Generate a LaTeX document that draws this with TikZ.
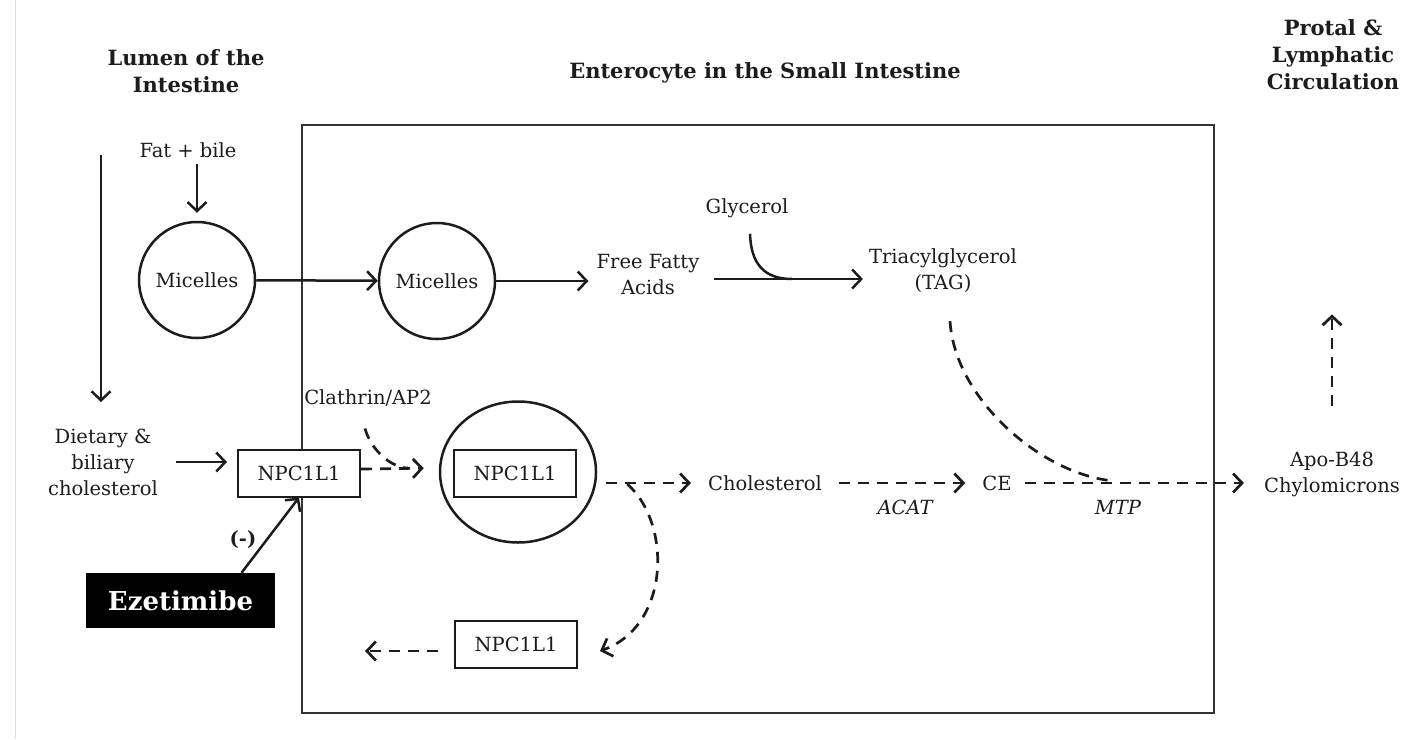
\documentclass[tikz,border=0pt]{standalone}
\usepackage{fontspec}
\setmainfont{DejaVu Serif}
\usetikzlibrary{arrows.meta,shapes.geometric}
\definecolor{ink}{HTML}{1C1C1C}
\begin{document}
\begin{tikzpicture}[x=1pt,y=-1pt,
  every node/.style={text=ink, inner sep=0pt},
  txt/.style={font=\fontsize{19.5}{26}\selectfont, align=center},
  itx/.style={font=\fontsize{19.5}{26}\selectfont\itshape},
  head/.style={font=\fontsize{21}{27}\selectfont\bfseries, align=center},
  cell/.style={circle, draw=ink, line width=2.5pt, minimum size=116pt, font=\fontsize{19.5}{26}\selectfont},
  pbox/.style={rectangle, draw=ink, fill=white, line width=2pt, minimum width=122pt, minimum height=47pt, font=\fontsize{19.5}{26}\selectfont},
  arr/.style={-{Straight Barb[length=9pt,width=19pt]}, line width=2.5pt, draw=ink},
  darr/.style={arr, line width=2.7pt, dash pattern=on 11pt off 8pt},
  dline/.style={draw=ink, line width=2.7pt, dash pattern=on 11pt off 8pt},
]
\useasboundingbox (0,0) rectangle (1423,739);
\draw[gray!25, line width=1pt] (15,0) -- (15,739);

% headings
\node[head] (lumen) at (186,71) {Lumen of the\\Intestine};
\node[head] (entero) at (765,73) {Enterocyte in the Small Intestine};
\node[head] (portal) at (1333,55) {Protal \&\\Lymphatic\\Circulation};

% enterocyte box
\node[draw=ink!90, line width=2.5pt, minimum width=912pt, minimum height=588pt] (entbox) at (758,419) {};

% top row
\node[txt] (fat) at (188,150) {Fat + bile};
\node[cell] (mic1) at (197,280) {Micelles};
\node[cell] (mic2) at (437,281) {Micelles};
\node[txt] (ffa) at (648,275) {Free Fatty\\Acids};
\node[txt] (gly) at (747,208) {Glycerol};
\node[txt] (tag) at (943,271) {Triacylglycerol\\(TAG)};

% middle row
\node[txt] (diet) at (103,462) {Dietary \&\\biliary\\cholesterol};
\node[pbox] (npc1) at (299,473) {NPC1L1};
\node[txt] (clath) at (368,398) {Clathrin/AP2};
\node[ellipse, draw=ink, line width=2.5pt, minimum width=156pt, minimum height=141pt] (ves) at (518,472) {};
\node[pbox] (npc2) at (515,473) {NPC1L1};
\node[txt] (chol) at (765,483) {Cholesterol};
\node[txt] (ce) at (997,483) {CE};
\node[txt] (apo) at (1332,474) {Apo-B48\\Chylomicrons};
\node[itx] (acat) at (905,507) {ACAT};
\node[itx] (mtp) at (1118,507) {MTP};

% bottom
\node[pbox] (npc3) at (516,644) {NPC1L1};
\node[fill=black, minimum width=189pt, minimum height=55pt, text=white, font=\fontsize{26}{30}\selectfont\bfseries] (ezet) at (180.5,600.5) {Ezetimibe};
\node[txt, font=\fontsize{19.5}{26}\selectfont\bfseries] (minus) at (243,540) {(-)};

\coordinate (l1) at (101,155);
\coordinate (l2) at (101,402);
\coordinate (merge) at (792,279);
\coordinate (mtpjoin) at (1115,481);
\coordinate (exit) at (365,651);
\coordinate (clathjoin) at (408,468);

% solid arrows
\draw[arr] (l1) -- (l2);
\draw[arr, shorten <=6pt, shorten >=8pt] (fat.south -| mic1.north) -- (mic1.north);
\draw[arr] (mic1) -- (mic2);
\draw[arr, shorten >=8pt] (mic2.east) -- (mic2.east -| ffa.west);
\draw[arr, shorten <=14pt, shorten >=6pt] (ffa.east |- merge) -- (tag.west |- merge);
\draw[draw=ink, line width=2.5pt] ([shift={(3,16)}]gly.south) .. controls +(1,30) and +(-28,0) .. (merge);
\draw[arr, shorten <=18pt, shorten >=10pt] (diet.east) -- (diet.east -| npc1.west);
\draw[arr] ([xshift=61pt]ezet.north) -- (npc1.south);

% dashed arrows
\draw[darr, shorten >=15pt] ([yshift=4pt]npc1.east) -- ([yshift=4pt]ves.west);
\draw[dline] ([shift={(-3,22)}]clath.south) .. controls +(6,22) and +(-16,0) .. (clathjoin);
\draw[darr, shorten <=9pt, shorten >=17pt] (ves.east |- chol) -- (chol.west);
\draw[darr, shorten <=17pt, shorten >=17pt] (chol.east) -- (ce.west);
\draw[darr, shorten <=13pt, shorten >=20pt] (ce.east) -- (ce.east -| apo.west);
\draw[dline] ([shift={(7,28)}]tag.south) .. controls +(5,80) and +(-70,-5) .. (mtpjoin);
\draw[darr] ([yshift=45pt]apo.north) -- ([yshift=137pt]apo.north);
\draw[darr] ([shift={(30,12)}]ves.east) .. controls +(45,40) and +(70,-25) .. ([shift={(22,7)}]npc3.east);
\draw[darr, shorten <=16pt] ([yshift=-7pt]npc3.west) -- (exit);
\end{tikzpicture}
\end{document}
